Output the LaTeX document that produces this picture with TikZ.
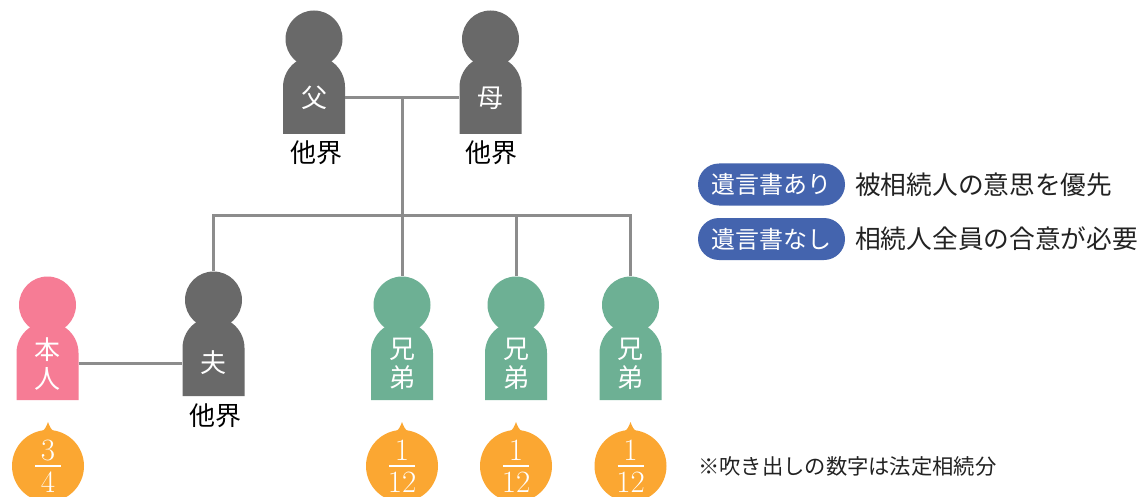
\documentclass[tikz,border=0pt]{standalone}
\usepackage{fontspec}
\newfontfamily\cjk{Noto Sans CJK JP}
\definecolor{kgray}{HTML}{696969}
\definecolor{kpink}{HTML}{F67C95}
\definecolor{kgreen}{HTML}{6DB094}
\definecolor{korange}{HTML}{FBA732}
\definecolor{kblue}{HTML}{4464AE}
\definecolor{kline}{HTML}{8C8C8C}
\definecolor{ktext}{HTML}{222222}
\tikzset{
  headshape/.style={circle,inner sep=0pt,minimum size=57pt},
  bodylabel/.style={inner sep=0pt,minimum width=62pt,minimum height=60pt,text=white,align=center,font=\cjk\fontsize{26}{28.5}\selectfont},
  deceased/.style={inner sep=0pt,font=\cjk\fontsize{26}{28}\selectfont,text=black},
  linkline/.style={draw=kline,line width=3pt},
  pill/.style={rounded corners=21pt,inner sep=0pt,minimum width=147pt,minimum height=42pt,fill=kblue,text=white,font=\cjk\fontsize{24}{26}\selectfont},
  sidetext/.style={anchor=west,inner sep=0pt,text=ktext,font=\cjk\fontsize{25.7}{28}\selectfont},
  bubble/.style={circle,inner sep=0pt,minimum size=72pt,fill=korange},
  digit/.style={inner sep=0pt,text=white,font=\fontsize{31}{33}\selectfont},
  fracrule/.style={draw=white,line width=1.2pt},
}
% name, centre x, head centre y, bottom y, colour, label, label y
\newcommand\kperson[7]{%
  \pgfmathsetmacro\archy{#3+48}%
  \fill[#5] (#2-31,#4) -- (#2-31,\archy) arc[start angle=180,end angle=0,radius=31pt] -- (#2+31,#4) -- cycle;
  \node[headshape,fill=#5] (#1-head) at (#2,#3) {};
  \node[bodylabel] (#1) at (#2,#7) {#6};
}
% name, centre x, numerator, denominator
\newcommand\kbubble[4]{%
  \fill[korange] (#2-6.5,431.5) .. controls (#2-3,430) and (#2-1.5,426) .. (#2,422) .. controls (#2+1.5,426) and (#2+3,430) .. (#2+6.5,431.5) -- cycle;
  \node[bubble] (#1) at (#2,466) {};
  \node[digit] (#1-n) at (#2,450) {#3};
  \node[digit] (#1-d) at (#2,482.5) {#4};
  \draw[fracrule] (#2-13,466) -- (#2+13,466);
}
\begin{document}
\begin{tikzpicture}[x=1pt,y=-1pt]
\clip (0,0) rectangle (1142,497);
\fill[white] (0,0) rectangle (1142,497);
% people
\kperson{fa}{314}{39}{134}{kgray}{父}{98}
\kperson{mo}{490.5}{39}{134}{kgray}{母}{98}
\kperson{hu}{213.5}{300}{396}{kgray}{夫}{363}
\kperson{me}{47.5}{305}{400}{kpink}{本\\人}{364}
\kperson{b1}{402}{305}{400}{kgreen}{兄\\弟}{364}
\kperson{b2}{516}{305}{400}{kgreen}{兄\\弟}{364}
\kperson{b3}{630.5}{305}{400}{kgreen}{兄\\弟}{364}
% connectors
\coordinate (top) at (402,98);
\coordinate (rail) at (402,215.5);
\draw[linkline] (fa) -- (mo);
\draw[linkline] (top) -- (b1-head);
\draw[linkline] (hu-head) |- (rail);
\draw[linkline] (b3-head) |- (rail);
\draw[linkline] (b2-head) -- (b2-head |- rail);
\draw[linkline] (me.east |- hu) -- (hu);
% deceased labels
\node[deceased] (d1) at (316,153) {他界};
\node[deceased] (d2) at (491.5,153) {他界};
\node[deceased] (d3) at (215,415.5) {他界};
% legend
\node[pill] (p1) at (771.5,184.5) {遺言書あり};
\node[sidetext] (t1) at (855,184.5) {被相続人の意思を優先};
\node[pill] (p2) at (771.5,239) {遺言書なし};
\node[sidetext] (t2) at (855,239) {相続人全員の合意が必要};
% shares
\kbubble{s0}{48}{3}{4}
\kbubble{s1}{402}{1}{12}
\kbubble{s2}{516}{1}{12}
\kbubble{s3}{630.5}{1}{12}
\node[anchor=west,inner sep=0pt,text=ktext,font=\cjk\fontsize{21.3}{24}\selectfont] (note) at (698,466) {※吹き出しの数字は法定相続分};
\end{tikzpicture}
\end{document}
